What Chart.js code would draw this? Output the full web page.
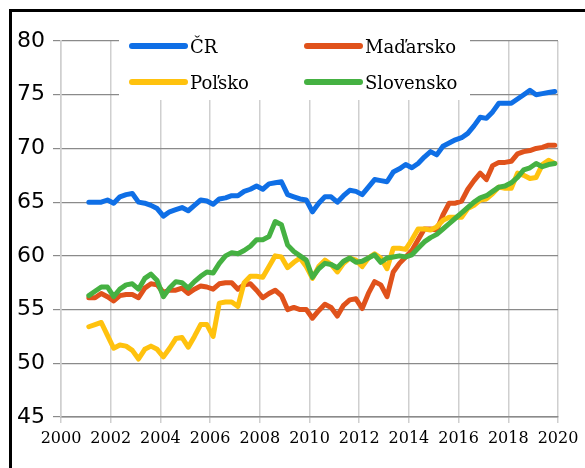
<!DOCTYPE html>
<html>
<head>
<meta charset="utf-8">
<script src="https://cdn.jsdelivr.net/npm/chart.js@4/dist/chart.umd.min.js"></script>
<style>
  html, body { margin: 0; padding: 0; background: #fff; }
  #wrap { position: relative; width: 585px; height: 468px; }
</style>
</head>
<body>
<div id="wrap"><canvas id="chart" width="585" height="468"></canvas></div>
<script>
// quarterly data, 2001Q1 .. 2019Q4
const START_YEAR = 2001;
const END_YEAR = 2019;

const seriesNames = ['ČR', 'Maďarsko', 'Poľsko', 'Slovensko'];
const seriesColors = ['#0F6FE6', '#E0521B', '#FFC20E', '#45B142'];

const cr = [
    65.0, 65.0, 65.0, 65.2,  64.9, 65.5, 65.7, 65.8,  65.0, 64.9, 64.7, 64.4,
    63.7, 64.1, 64.3, 64.5,  64.2, 64.7, 65.2, 65.1,  64.8, 65.3, 65.4, 65.6,
    65.6, 66.0, 66.2, 66.5,  66.2, 66.7, 66.8, 66.9,  65.7, 65.5, 65.3, 65.2,
    64.1, 64.9, 65.5, 65.5,  65.0, 65.6, 66.1, 66.0,  65.7, 66.4, 67.1, 67.0,
    66.9, 67.8, 68.1, 68.5,  68.2, 68.6, 69.2, 69.7,  69.4, 70.2, 70.5, 70.8,
    71.0, 71.4, 72.1, 72.9,  72.8, 73.4, 74.2, 74.2,  74.2, 74.6, 75.0, 75.4,
    75.0, 75.1, 75.2, 75.3
];
const madarsko = [
    56.1, 56.1, 56.5, 56.2,  55.8, 56.3, 56.4, 56.4,  56.1, 57.0, 57.4, 57.3,
    56.6, 56.8, 56.8, 57.0,  56.5, 56.9, 57.2, 57.1,  56.9, 57.4, 57.5, 57.5,
    56.9, 57.3, 57.4, 56.8,  56.1, 56.5, 56.8, 56.3,  55.0, 55.2, 55.0, 55.0,
    54.2, 54.9, 55.5, 55.2,  54.4, 55.4, 55.9, 56.0,  55.1, 56.5, 57.6, 57.3,
    56.2, 58.5, 59.3, 59.9,  60.5, 61.5, 62.5, 62.5,  62.4, 63.8, 64.9, 64.9,
    65.1, 66.2, 67.0, 67.7,  67.1, 68.4, 68.7, 68.7,  68.8, 69.5, 69.7, 69.8,
    70.0, 70.1, 70.3, 70.3
];
const polsko = [
    53.4, 53.6, 53.8, 52.6,  51.4, 51.7, 51.6, 51.2,  50.4, 51.3, 51.6, 51.3,
    50.6, 51.4, 52.3, 52.4,  51.5, 52.5, 53.6, 53.6,  52.5, 55.6, 55.7, 55.7,
    55.3, 57.5, 58.1, 58.1,  58.0, 59.0, 60.0, 59.9,  58.9, 59.4, 59.8, 59.0,
    57.9, 59.0, 59.6, 59.2,  58.5, 59.3, 59.8, 59.6,  59.0, 59.8, 60.2, 59.8,
    58.8, 60.7, 60.7, 60.6,  61.5, 62.5, 62.5, 62.4,  62.7, 63.3, 63.6, 63.6,
    63.6, 64.4, 64.7, 65.2,  65.3, 65.8, 66.4, 66.3,  66.3, 67.7, 67.5, 67.2,
    67.3, 68.5, 68.9, 68.6
];
const slovensko = [
    56.3, 56.7, 57.1, 57.1,  56.2, 56.9, 57.3, 57.4,  56.9, 57.9, 58.3, 57.7,
    56.2, 57.0, 57.6, 57.5,  57.0, 57.6, 58.1, 58.5,  58.4, 59.3, 60.0, 60.3,
    60.2, 60.5, 60.9, 61.5,  61.5, 61.8, 63.2, 62.9,  61.0, 60.4, 60.0, 59.6,
    58.0, 58.8, 59.3, 59.2,  58.9, 59.5, 59.8, 59.4,  59.5, 59.8, 60.1, 59.4,
    59.8, 59.9, 60.0, 59.9,  60.1, 60.7, 61.3, 61.7,  62.0, 62.5, 63.0, 63.5,
    64.0, 64.5, 65.0, 65.4,  65.6, 66.0, 66.4, 66.5,  66.8, 67.3, 68.0, 68.2,
    68.6, 68.3, 68.5, 68.6
];

const xTicks = [2000, 2002, 2004, 2006, 2008, 2010, 2012, 2014, 2016, 2018, 2020];
const yTicks = [45, 50, 55, 60, 65, 70, 75, 80];

// time position of each quarter on the year axis
const quarterX = [];
for (let y = START_YEAR; y <= END_YEAR; y++) {
    for (let q = 0; q < 4; q++) quarterX.push(y + q * 0.25 + 0.12);
}

const allSeries = [cr, madarsko, polsko, slovensko];
const datasets = allSeries.map((vals, i) => ({
    label: seriesNames[i],
    data: vals.map((v, k) => ({ x: quarterX[k], y: v })),
    borderColor: seriesColors[i],
    backgroundColor: seriesColors[i],
    borderWidth: 5,
    pointRadius: 0,
    tension: 0,
    borderJoinStyle: 'round',
    borderCapStyle: 'round',
}));
// chart.js paints index 0 last, so reverse to keep Slovensko on top
datasets.reverse();

// frame around the whole figure
const framePlugin = {
    id: 'frame',
    afterDraw(chart) {
        const ctx = chart.ctx;
        ctx.save();
        ctx.strokeStyle = '#000';
        ctx.lineWidth = 3;
        ctx.beginPath();
        ctx.moveTo(10.5, 470);
        ctx.lineTo(10.5, 10.5);
        ctx.lineTo(590, 10.5);
        ctx.stroke();
        ctx.restore();
    }
};

// legend inside the plot, two columns on a white box
const legendPlugin = {
    id: 'insideLegend',
    beforeDatasetsDraw(chart) {
        const ctx = chart.ctx;
        ctx.save();
        ctx.fillStyle = '#fff';
        ctx.fillRect(119, 28, 351, 72);
        const cols = [132, 307];
        const rows = [46, 82];
        ctx.font = '18px "DejaVu Serif"';
        ctx.textBaseline = 'middle';
        ctx.fillStyle = '#000';
        seriesNames.forEach((name, i) => {
            const cx = cols[i % 2];
            const cy = rows[Math.floor(i / 2)];
            ctx.strokeStyle = seriesColors[i];
            ctx.lineWidth = 6;
            ctx.lineCap = 'round';
            ctx.beginPath();
            ctx.moveTo(cx, cy);
            ctx.lineTo(cx + 53, cy);
            ctx.stroke();
            ctx.fillText(name, cx + 58, cy + 2);
        });
        ctx.restore();
    }
};

new Chart(document.getElementById('chart').getContext('2d'), {
    type: 'line',
    data: { datasets },
    options: {
        responsive: false,
        animation: false,
        layout: { padding: { top: 41, right: 27, bottom: 0, left: 0 } },
        plugins: {
            legend: { display: false },
            tooltip: { enabled: false },
        },
        scales: {
            x: {
                type: 'linear',
                min: xTicks[0],
                max: xTicks[xTicks.length - 1],
                afterBuildTicks: (axis) => { axis.ticks = xTicks.map(v => ({ value: v })); },
                afterFit: (axis) => { axis.height = 51; },
                ticks: {
                    callback: (v) => String(v),
                    font: { family: '"DejaVu Serif"', size: 16 },
                    color: '#000',
                    padding: 6,
                    maxRotation: 0,
                },
                grid: { color: '#cfcfcf', lineWidth: 1.5, tickLength: 6 },
                border: { color: '#8a8a8a', width: 1.5 },
            },
            y: {
                min: yTicks[0],
                max: yTicks[yTicks.length - 1],
                afterBuildTicks: (axis) => { axis.ticks = yTicks.map(v => ({ value: v })); },
                afterFit: (axis) => { axis.width = 61; },
                ticks: {
                    font: { family: '"DejaVu Sans"', size: 22 },
                    color: '#000',
                    padding: 8,
                },
                grid: { color: '#8a8a8a', lineWidth: 1.2, tickLength: 8 },
                border: { color: '#cfcfcf', width: 1.5 },
            },
        },
    },
    plugins: [legendPlugin, framePlugin],
});
</script>
</body>
</html>
